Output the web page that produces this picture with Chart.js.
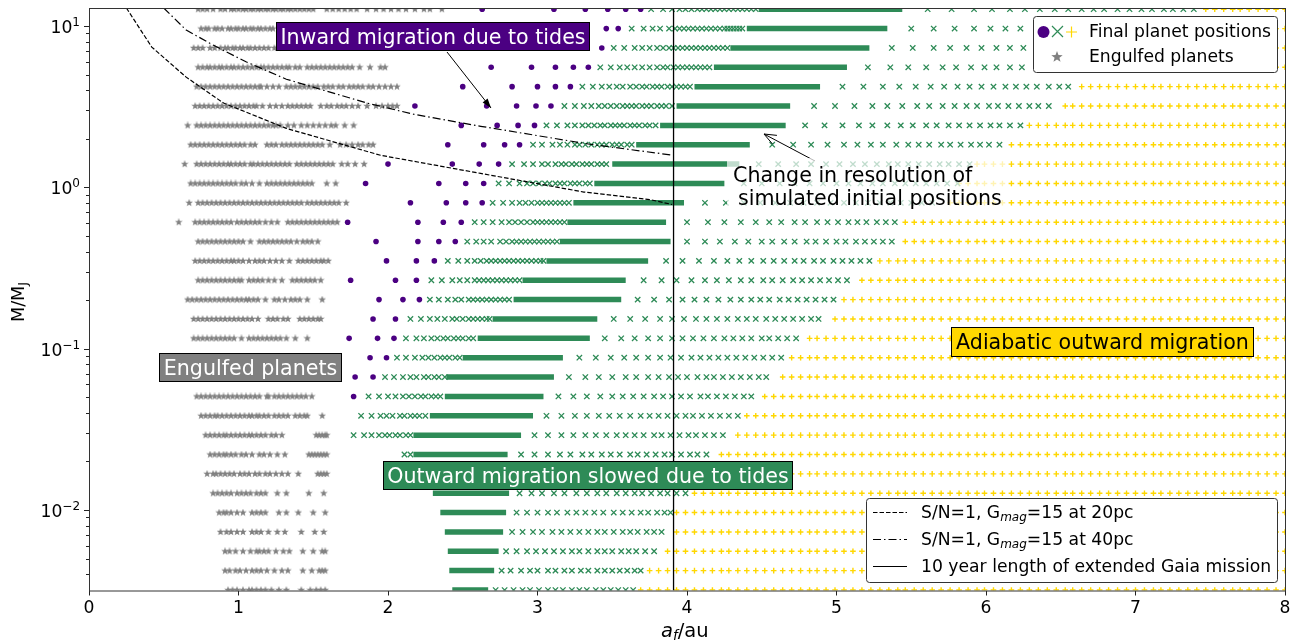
<!DOCTYPE html>
<html>
<head>
<meta charset="utf-8">
<script src="https://cdn.jsdelivr.net/npm/chart.js@4"></script>
<style>
  body { margin: 0; background: white; }
  canvas { display: block; }
</style>
</head>
<body>
<canvas id="chart" width="1301" height="642"></canvas>
<script>
// planet masses of the rows, top row first
const masses = [12.71, 9.638, 7.311, 5.546, 4.207, 3.192, 2.421, 1.837, 1.393, 1.057, 0.8017, 0.6081, 0.4613, 0.35, 0.2655, 0.2014, 0.1528, 0.1159, 0.0879, 0.06668, 0.05058, 0.03837, 0.0291, 0.02208, 0.01675, 0.0127, 0.00964, 0.00731, 0.00555, 0.00421, 0.00319];

const starX = [
  [.73,.76,.79,.83,.88,.91,.95,.97,1,1.03,1.05,1.08,1.1,1.13,1.15,1.18,1.2,1.23,1.25,1.28,1.3,1.33,1.35,1.38,1.41,1.44,1.47,1.5,1.59,1.63,1.67,1.71,1.75,1.79,1.86,1.92,1.97,2.02,2.07,2.12,2.18,2.24,2.28,2.36],
  [.75,.78,.8,.84,.86,.89,.93,.95,.98,1,1.03,1.05,1.08,1.1,1.13,1.15,1.18,1.21,1.23],
  [.7,.73,.76,.81,.84,.88,.91,.93,.96,.98,1.01,1.03,1.06,1.08,1.11,1.14,1.17,1.2,1.24,1.26],
  [.73,.76,.79,.81,.84,.87,.89,.92,.95,.97,1,1.03,1.06,1.09,1.12,1.15,1.17,1.2,1.23,1.26,1.29,1.32,1.34,1.38,1.41,1.46,1.49,1.52,1.55,1.58,1.61,1.64,1.67,1.7,1.73,1.76,1.81,1.88,1.95,1.98],
  [.72,.75,.78,.81,.84,.87,.9,.93,.96,.99,1.02,1.05,1.08,1.11,1.14,1.15,1.19,1.23,1.27,1.32,1.35,1.38,1.41,1.44,1.47,1.5,1.53,1.57,1.6,1.63,1.67,1.7,1.74,1.77,1.8,1.83,1.87,1.9,1.94,1.98,2.02,2.06],
  [.71,.74,.77,.8,.83,.86,.89,.92,.95,.98,1.01,1.04,1.07,1.1,1.12,1.16,1.21,1.25,1.29,1.33,1.36,1.39,1.42,1.45,1.48,1.55,1.59,1.62,1.66,1.69,1.72,1.76,1.8,1.86,1.92,1.96,2,2.03,2.06],
  [.66,.72,.75,.78,.81,.84,.87,.9,.93,.96,.99,1.02,1.05,1.08,1.11,1.14,1.17,1.2,1.23,1.25,1.28,1.33,1.37,1.42,1.46,1.5,1.54,1.58,1.62,1.65,1.71,1.77],
  [.68,.71,.74,.77,.8,.83,.86,.89,.92,.95,.98,1.01,1.04,1.08,1.11,1.19,1.22,1.25,1.29,1.32,1.35,1.38,1.41,1.44,1.47,1.5,1.53,1.56,1.61,1.68,1.72,1.76,1.8,1.83,1.87,1.9],
  [.64,.72,.75,.78,.81,.84,.87,.9,.93,.95,.98,1.01,1.04,1.08,1.1,1.13,1.16,1.19,1.22,1.25,1.28,1.31,1.34,1.39,1.42,1.45,1.48,1.51,1.54,1.57,1.6,1.63,1.69,1.73,1.78,1.84],
  [.68,.71,.74,.77,.8,.83,.86,.89,.92,.95,.98,1.02,1.05,1.09,1.14,1.19,1.22,1.25,1.28,1.31,1.34,1.37,1.4,1.43,1.46,1.49,1.59,1.65],
  [.67,.73,.76,.79,.82,.85,.88,.91,.94,.97,1,1.03,1.06,1.09,1.12,1.15,1.18,1.21,1.24,1.27,1.3,1.33,1.36,1.39,1.42,1.46,1.49,1.52,1.55,1.58,1.61,1.64,1.67,1.72],
  [.6,.71,.74,.77,.8,.83,.86,.89,.92,.95,.99,1.02,1.05,1.08,1.11,1.14,1.18,1.22,1.26,1.33,1.36,1.39,1.42,1.45,1.48,1.51,1.54,1.57,1.6,1.63,1.66],
  [.73,.76,.79,.82,.85,.88,.91,.94,.97,1,1.03,1.08,1.14,1.17,1.2,1.23,1.26,1.29,1.32,1.35,1.39,1.43,1.46,1.49,1.53],
  [.71,.74,.77,.8,.83,.86,.89,.92,.95,.97,1,1.03,1.07,1.11,1.14,1.17,1.21,1.25,1.29,1.34,1.4,1.43,1.46,1.49,1.52,1.55,1.57,1.6],
  [.73,.76,.79,.82,.85,.88,.91,.94,.97,1,1.02,1.07,1.1,1.13,1.16,1.2,1.24,1.29,1.36,1.39,1.42,1.45,1.48,1.51,1.55],
  [.66,.69,.72,.75,.78,.81,.84,.87,.9,.93,.96,.99,1.02,1.05,1.07,1.1,1.13,1.18,1.24,1.27,1.31,1.35,1.38,1.41,1.46,1.56],
  [.7,.73,.76,.79,.82,.85,.88,.91,.94,.97,1,1.03,1.06,1.09,1.13,1.2,1.23,1.26,1.3,1.33,1.41,1.44,1.47,1.5,1.53,1.55],
  [.7,.73,.76,.79,.82,.85,.88,.91,.94,.97,1.02,1.07,1.1,1.13,1.16,1.19,1.22,1.25,1.28,1.32,1.38,1.46],
  [.72,.76,.8,.84,.88,.92,.96,1,1.04,1.08,1.12,1.16,1.22,1.27,1.32,1.38,1.44],
  [.74,.78,.82,.86,.9,.94,.98,1.02,1.07,1.11,1.15,1.19,1.25,1.29,1.33,1.4,1.45,1.5],
  [.72,.75,.78,.81,.84,.87,.9,.93,.96,.99,1.02,1.05,1.08,1.11,1.14,1.19,1.2,1.24,1.27,1.3,1.33,1.36,1.39,1.42,1.45,1.49],
  [.75,.78,.81,.84,.86,.89,.92,.95,.98,1.01,1.04,1.07,1.09,1.12,1.14,1.17,1.2,1.24,1.27,1.3,1.33,1.38,1.41,1.44,1.46,1.56],
  [.78,.81,.84,.87,.9,.92,.95,.98,1.01,1.04,1.07,1.09,1.12,1.15,1.18,1.22,1.25,1.29,1.52,1.54,1.56,1.58,1.59],
  [.81,.84,.87,.9,.92,.95,.98,1.02,1.05,1.09,1.14,1.17,1.21,1.26,1.31,1.47,1.49,1.51,1.53,1.55,1.57,1.59],
  [.79,.83,.85,.88,.91,.94,.97,1.01,1.04,1.07,1.11,1.14,1.18,1.21,1.25,1.29,1.33,1.4,1.53,1.55,1.57,1.59],
  [.83,.86,.89,.92,.95,.99,1.02,1.05,1.08,1.12,1.15,1.18,1.26,1.32,1.47,1.57],
  [.87,.9,.92,.95,.99,1.03,1.09,1.12,1.15,1.18,1.27,1.32,1.4,1.5,1.58],
  [.88,.92,.95,.99,1.03,1.09,1.12,1.15,1.2,1.26,1.31,1.42,1.51,1.57],
  [.91,.94,.98,1.03,1.08,1.12,1.14,1.17,1.2,1.25,1.3,1.34,1.43,1.5,1.56,1.58],
  [.91,.94,.98,1.01,1.05,1.09,1.12,1.15,1.19,1.24,1.29,1.33,1.43,1.49,1.54,1.56,1.58],
  [.93,.96,.99,1.03,1.07,1.09,1.12,1.15,1.18,1.22,1.27,1.32,1.42,1.48,1.52,1.55,1.58]
];

const circleX = [
  [2.63,3.11,3.32,3.47,3.59,3.69],
  [3.46,3.54],
  [3.43],
  [2.69,2.96,3.12,3.24,3.34],
  [2.5,2.83,3,3.12,3.22],
  [2.18,2.66,2.86,2.99,3.09],
  [2.49,2.73,2.87,2.98],
  [2.4,2.64,2.78,2.88],
  [2,2.43,2.61,2.74],
  [1.85,2.34,2.52,2.64],
  [2.15,2.39,2.52,2.63],
  [1.73,2.2,2.37,2.49],
  [1.92,2.2,2.34,2.45],
  [1.99,2.19,2.31],
  [1.75,2.05,2.19],
  [1.94,2.1,2.21],
  [1.9,2.05],
  [1.74,1.93,2.04],
  [1.88,1.99],
  [1.78,1.9],
  [1.77],
  [],[],[],[],[],[],[],[],[],[]
];

const crossX = [
  [3.76,3.84,3.9,3.95,3.99,4.03,4.07,4.1,4.13,4.16,4.19,4.22,4.25,4.28,4.31,4.34,4.37,4.4,4.43,4.46,5.61,5.77,5.92,6.04,6.16,6.26,6.36,6.46,6.55,6.64,6.72,6.79,6.88,6.96,7.04,7.11,7.19,7.25,7.32,7.39],
  [3.63,3.71,3.77,3.82,3.88,3.92,3.95,3.98,4.01,4.04,4.07,4.1,4.13,4.16,4.19,4.22,4.25,4.27,4.29,4.31,4.33,4.35,4.37,5.5,5.65,5.79,5.92,6.03,6.13,6.23],
  [3.51,3.58,3.65,3.7,3.75,3.8,3.84,3.88,3.91,3.94,3.97,4,4.03,4.06,4.09,4.12,4.15,4.18,4.21,4.24,4.27,5.37,5.51,5.65,5.76,5.87,5.97,6.07,6.16,6.25],
  [3.42,3.49,3.55,3.6,3.65,3.7,3.75,3.8,3.84,3.87,3.91,3.94,3.97,4,4.03,4.06,4.09,4.12,4.15,5.21,5.36,5.48,5.6,5.71,5.8,5.9,5.99,6.07,6.16,6.24],
  [3.3,3.37,3.43,3.48,3.53,3.57,3.62,3.66,3.7,3.73,3.77,3.8,3.83,3.87,3.9,3.93,3.96,3.99,4.02,5.04,5.18,5.31,5.42,5.53,5.63,5.72,5.81,5.89,5.97,6.05,6.13,6.2,6.27,6.34,6.42,6.49,6.55],
  [3.18,3.25,3.31,3.36,3.41,3.45,3.49,3.53,3.57,3.6,3.63,3.66,3.7,3.73,3.76,3.8,3.83,3.86,3.9,4.85,4.99,5.12,5.24,5.34,5.44,5.54,5.62,5.71,5.79,5.87,5.94,6.02,6.08,6.15,6.22,6.29,6.35,6.42],
  [3.06,3.13,3.2,3.25,3.3,3.34,3.38,3.42,3.45,3.49,3.52,3.55,3.58,3.62,3.65,3.68,3.72,3.75,3.79,4.79,4.92,5.04,5.15,5.24,5.34,5.43,5.51,5.6,5.67,5.75,5.82,5.89,5.96,6.03,6.09,6.16,6.23],
  [2.97,3.03,3.1,3.15,3.2,3.25,3.28,3.32,3.36,3.4,3.43,3.46,3.5,3.53,3.56,3.6,3.63,4.57,4.71,4.83,4.94,5.05,5.14,5.23,5.31,5.4,5.48,5.55,5.62,5.7,5.76,5.83,5.9,5.96,6.02,6.09],
  [2.83,2.91,2.97,3.03,3.07,3.12,3.16,3.19,3.23,3.26,3.3,3.33,3.36,3.4,3.43,3.46,4.48,4.61,4.73,4.83,4.93,5.02,5.11,5.19,5.27,5.35,5.41,5.48,5.55,5.62,5.69,5.75,5.82,5.89],
  [2.74,2.81,2.88,2.93,2.97,3.01,3.05,3.08,3.12,3.15,3.18,3.22,3.25,3.28,3.32,3.35,4.38,4.5,4.62,4.72,4.82,4.91,5,5.08,5.16,5.24,5.31,5.39,5.46,5.53,5.6,5.67,5.74,5.81],
  [2.7,2.77,2.83,2.88,2.92,2.96,3,3.03,3.06,3.09,3.12,3.15,3.18,3.21,4.12,4.26,4.38,4.49,4.59,4.69,4.78,4.87,4.96,5.05,5.13,5.21,5.29,5.36,5.43,5.5,5.57,5.64],
  [2.58,2.64,2.7,2.76,2.81,2.85,2.89,2.93,2.97,3,3.03,3.06,3.09,3.12,3.15,3.18,4,4.14,4.25,4.36,4.46,4.55,4.63,4.72,4.79,4.87,4.94,5.01,5.08,5.14,5.2,5.27,5.33,5.39],
  [2.53,2.59,2.64,2.69,2.75,2.79,2.83,2.86,2.89,2.92,2.95,2.98,3.01,3.04,3.07,3.1,3.13,4,4.12,4.22,4.32,4.41,4.5,4.57,4.65,4.72,4.8,4.86,4.93,5,5.06,5.13,5.19,5.25,5.31,5.37],
  [2.4,2.47,2.53,2.58,2.62,2.66,2.69,2.72,2.75,2.78,2.81,2.84,2.87,2.9,2.93,2.96,2.99,3.02,3.04,3.86,3.97,4.08,4.18,4.27,4.35,4.43,4.51,4.58,4.65,4.72,4.78,4.85,4.91,4.98,5.04,5.1,5.16,5.22],
  [2.29,2.36,2.43,2.48,2.53,2.58,2.61,2.64,2.67,2.7,2.73,2.76,2.79,2.82,2.85,2.88,3.71,3.83,3.93,4.03,4.12,4.2,4.28,4.36,4.43,4.51,4.57,4.64,4.71,4.77,4.83,4.89,4.95,5.01,5.07],
  [2.28,2.34,2.4,2.45,2.49,2.54,2.57,2.6,2.63,2.66,2.69,2.72,2.75,2.78,2.81,3.67,3.78,3.88,3.97,4.05,4.13,4.21,4.29,4.36,4.43,4.49,4.55,4.62,4.68,4.74,4.8,4.86,4.92,4.98],
  [2.15,2.22,2.28,2.33,2.38,2.43,2.46,2.5,2.54,2.57,2.6,2.63,2.66,2.68,3.51,3.62,3.72,3.82,3.9,3.98,4.06,4.13,4.2,4.27,4.34,4.4,4.46,4.53,4.59,4.65,4.71,4.77,4.83,4.88],
  [2.12,2.19,2.24,2.29,2.33,2.37,2.4,2.44,2.47,2.5,2.54,2.57,3.45,3.56,3.65,3.74,3.82,3.9,3.97,4.04,4.11,4.18,4.25,4.31,4.37,4.43,4.5,4.55,4.61,4.67,4.73],
  [2.06,2.12,2.18,2.23,2.27,2.31,2.35,2.38,2.41,2.45,2.48,3.28,3.39,3.49,3.58,3.66,3.74,3.82,3.89,3.96,4.03,4.09,4.15,4.21,4.27,4.33,4.39,4.45,4.51,4.57,4.63],
  [1.98,2.04,2.1,2.15,2.19,2.24,2.27,2.31,2.34,2.38,3.21,3.32,3.41,3.5,3.59,3.66,3.74,3.81,3.88,3.94,4,4.07,4.13,4.18,4.24,4.3,4.36,4.42,4.48,4.53],
  [1.87,1.94,2,2.05,2.1,2.14,2.18,2.22,2.25,2.29,2.32,2.35,3.14,3.24,3.33,3.42,3.5,3.57,3.64,3.71,3.78,3.84,3.9,3.96,4.02,4.09,4.14,4.2,4.26,4.32,4.38,4.43],
  [1.82,1.89,1.95,1.99,2.03,2.08,2.11,2.15,2.18,2.21,2.25,3.06,3.16,3.25,3.33,3.41,3.48,3.55,3.62,3.69,3.75,3.81,3.87,3.93,3.99,4.04,4.1,4.16,4.22,4.28,4.34],
  [1.77,1.84,1.89,1.94,1.98,2.01,2.05,2.08,2.12,2.15,2.98,3.07,3.16,3.24,3.32,3.39,3.46,3.53,3.59,3.65,3.71,3.78,3.83,3.89,3.95,4.01,4.06,4.12,4.18,4.24],
  [2.11,2.15,2.89,2.98,3.07,3.15,3.22,3.3,3.36,3.43,3.49,3.55,3.62,3.67,3.73,3.79,3.85,3.9,3.96,4.02,4.07,4.13],
  [2.9,3,3.08,3.16,3.24,3.32,3.39,3.46,3.53,3.59,3.66,3.72,3.78,3.84,3.9,3.96,4.02],
  [2.88,2.96,3.03,3.11,3.18,3.26,3.33,3.4,3.46,3.53,3.59,3.65,3.7,3.76,3.82,3.87,3.93,3.99],
  [2.86,2.93,3,3.07,3.13,3.2,3.26,3.32,3.38,3.44,3.51,3.57,3.63,3.69,3.74,3.8,3.85,3.89],
  [2.83,2.9,2.97,3.03,3.1,3.16,3.22,3.28,3.34,3.4,3.45,3.51,3.57,3.62,3.67,3.73,3.78,3.83],
  [2.79,2.86,2.93,2.99,3.05,3.11,3.17,3.23,3.28,3.34,3.4,3.45,3.5,3.56,3.61,3.66,3.72,3.78],
  [2.76,2.82,2.89,2.95,3,3.07,3.12,3.18,3.23,3.29,3.34,3.4,3.45,3.5,3.55,3.6,3.65,3.69],
  [2.72,2.78,2.84,2.9,2.95,3.01,3.07,3.12,3.17,3.23,3.28,3.33,3.39,3.44,3.49,3.54,3.59,3.64]
];

// solid stretch of each row where the crosses merge together
const bandStart = [4.48, 4.4, 4.29, 4.18, 4.05, 3.93, 3.82, 3.66, 3.5, 3.38, 3.24, 3.2, 3.15, 3.06, 2.9, 2.84, 2.7, 2.6, 2.5, 2.39, 2.38, 2.28, 2.17, 2.17, 2.22, 2.3, 2.35, 2.38, 2.4, 2.41, 2.43];
const bandEnd = [5.44, 5.34, 5.22, 5.07, 4.89, 4.69, 4.66, 4.42, 4.35, 4.25, 3.98, 3.86, 3.89, 3.74, 3.59, 3.56, 3.4, 3.35, 3.17, 3.11, 3.04, 2.97, 2.89, 2.8, 2.8, 2.81, 2.79, 2.77, 2.74, 2.71, 2.67];

// plus markers sit on one grid, each row starts somewhere on it
const plusGrid = [3.69,3.75,3.81,3.87,3.93,3.99,4.05,4.11,4.17,4.23,4.28,4.34,4.40,4.46,4.52,4.58,4.64,4.70,4.76,4.82,4.87,4.93,4.99,5.05,5.11,5.17,5.23,5.29,5.35,5.41,5.46,5.52,5.58,5.64,5.70,5.76,5.82,5.88,5.94,5.99,6.05,6.11,6.17,6.23,6.29,6.35,6.41,6.47,6.53,6.58,6.64,6.70,6.76,6.82,6.88,6.94,7.00,7.06,7.12,7.17,7.23,7.29,7.35,7.41,7.47,7.53,7.59,7.65,7.70,7.76,7.82,7.88,7.94,8.00];
const plusStart = [7.45, 7.3, 7.3, 7.3, 6.61, 6.48, 6.28, 6.15, 5.94, 5.82, 5.72, 5.46, 5.45, 5.28, 5.13, 5.03, 4.94, 4.78, 4.69, 4.59, 4.49, 4.39, 4.29, 4.18, 4.08, 4.02, 3.93, 3.89, 3.83, 3.72, 3.68];

const curve20X = [0.25, 0.42, 0.65, 0.9, 1.32, 1.95, 2.62, 3.31, 3.75, 3.9];
const curve20Y = [12.93, 7.4, 4.82, 3.33, 2.32, 1.58, 1.22, 0.935, 0.84, 0.783];
const curve40X = [0.5, 0.65, 0.83, 1.05, 1.32, 1.5, 1.86, 2.17, 2.62, 3.35, 3.91];
const curve40Y = [12.93, 9.44, 7.62, 6.0, 4.68, 4.18, 3.33, 2.84, 2.39, 1.85, 1.58];
const gaiaX = [3.91, 3.91];
const gaiaY = [0.00317, 12.93];

const xTicks = [0, 1, 2, 3, 4, 5, 6, 7, 8];
const yMajor = [10, 1, 0.1, 0.01];
const yMajorExp = ["1", "0", "\u22121", "\u22122"];
const yMinor = [0.004, 0.005, 0.006, 0.007, 0.008, 0.009, 0.02, 0.03, 0.04, 0.05, 0.06, 0.07, 0.08, 0.09, 0.2, 0.3, 0.4, 0.5, 0.6, 0.7, 0.8, 0.9, 2, 3, 4, 5, 6, 7, 8, 9];

const green = "#2e8b57";
const purple = "#4b0082";
const gold = "#ffd700";
const gray = "#808080";
const fontName = '"DejaVu Sans"';

function makeStar(size, color) {
  const c = document.createElement("canvas");
  c.width = size;
  c.height = size;
  const g = c.getContext("2d");
  const r = size / 2;
  g.fillStyle = color;
  g.beginPath();
  for (let i = 0; i < 10; i++) {
    const rad = i % 2 === 0 ? r : r * 0.42;
    const a = -Math.PI / 2 + i * Math.PI / 5;
    g.lineTo(r + rad * Math.cos(a), r + rad * Math.sin(a));
  }
  g.closePath();
  g.fill();
  return c;
}

function rowPoints(lists) {
  return lists.flatMap((row, i) => row.map(x => ({ x: x, y: masses[i] })));
}

function linePoints(xs, ys) {
  return xs.map((x, i) => ({ x: x, y: ys[i] }));
}

const plusRows = plusStart.map(s => plusGrid.filter(x => x >= s));

const lineSets = [
  { data: linePoints(gaiaX, gaiaY), showLine: true, pointRadius: 0, borderColor: "black", borderWidth: 1.3, clip: 0 },
  { data: linePoints(curve40X, curve40Y), showLine: true, pointRadius: 0, borderColor: "black", borderWidth: 1.2, borderDash: [8, 3, 1.5, 3], clip: 0 },
  { data: linePoints(curve20X, curve20Y), showLine: true, pointRadius: 0, borderColor: "black", borderWidth: 1.2, borderDash: [4.5, 2], clip: 0 }
];

const bandSets = masses.map((m, i) => ({
  data: [{ x: bandStart[i], y: m }, { x: bandEnd[i], y: m }],
  showLine: true, pointRadius: 0, borderColor: green, borderWidth: 5.5, clip: 0
}));

const markSets = [
  { data: rowPoints(circleX), pointStyle: "circle", pointRadius: 2.8, backgroundColor: purple, borderColor: purple, borderWidth: 0, clip: 0 },
  { data: rowPoints(crossX), pointStyle: "crossRot", pointRadius: 3.8, borderColor: green, borderWidth: 1.3, clip: 0 },
  { data: rowPoints(plusRows), pointStyle: "cross", pointRadius: 2.8, borderColor: gold, borderWidth: 1.4, clip: 0 },
  { data: rowPoints(starX), pointStyle: makeStar(8, gray), pointRadius: 4, clip: 0 }
];

// text, for a run of normal, italic and small pieces
function writeParts(ctx, x, y, parts, size, color) {
  ctx.fillStyle = color || "black";
  ctx.textAlign = "left";
  ctx.textBaseline = "alphabetic";
  let pos = x;
  parts.forEach(p => {
    const s = p.small ? size * 0.7 : size;
    ctx.font = (p.italic ? "italic " : "") + s + "px " + fontName;
    ctx.fillText(p.t, pos, y + (p.dy || 0));
    pos += ctx.measureText(p.t).width;
  });
  return pos - x;
}

function labelBox(ctx, text, left, top, right, bottom, fill, textColor) {
  ctx.fillStyle = fill;
  ctx.fillRect(left, top, right - left, bottom - top);
  ctx.strokeStyle = "black";
  ctx.lineWidth = 1;
  ctx.strokeRect(left + 0.5, top + 0.5, right - left - 1, bottom - top - 1);
  ctx.fillStyle = textColor;
  ctx.font = "20.6px " + fontName;
  ctx.textAlign = "center";
  ctx.textBaseline = "alphabetic";
  ctx.fillText(text, (left + right) / 2, (top + bottom) / 2 + 7);
}

function arrow(ctx, x0, y0, x1, y1, filled) {
  const a = Math.atan2(y1 - y0, x1 - x0);
  const len = filled ? 10 : 13;
  const spread = filled ? 0.32 : 0.38;
  ctx.strokeStyle = "black";
  ctx.fillStyle = "black";
  ctx.lineWidth = 1;
  ctx.beginPath();
  ctx.moveTo(x0, y0);
  ctx.lineTo(x1, y1);
  ctx.stroke();
  ctx.beginPath();
  ctx.moveTo(x1 - len * Math.cos(a - spread), y1 - len * Math.sin(a - spread));
  ctx.lineTo(x1, y1);
  ctx.lineTo(x1 - len * Math.cos(a + spread), y1 - len * Math.sin(a + spread));
  if (filled) {
    ctx.closePath();
    ctx.fill();
  } else {
    ctx.stroke();
  }
}

function legendBox(ctx, x, y, w, h) {
  ctx.beginPath();
  ctx.roundRect(x + 0.5, y + 0.5, w, h, 3);
  ctx.fillStyle = "white";
  ctx.fill();
  ctx.strokeStyle = "#333";
  ctx.lineWidth = 1;
  ctx.stroke();
}

const extras = {
  id: "extras",
  afterDatasetsDraw(chart) {
    const ctx = chart.ctx;
    const area = chart.chartArea;
    const yScale = chart.scales.y;
    ctx.save();

    // y ticks are drawn by hand, chart.js can't do different tick lengths
    ctx.strokeStyle = "#222";
    ctx.lineWidth = 1;
    yMinor.forEach(v => {
      const py = Math.round(yScale.getPixelForValue(v)) + 0.5;
      ctx.beginPath();
      ctx.moveTo(area.left - 3, py);
      ctx.lineTo(area.left, py);
      ctx.stroke();
    });
    yMajor.forEach((v, i) => {
      const py = Math.round(yScale.getPixelForValue(v)) + 0.5;
      ctx.beginPath();
      ctx.moveTo(area.left - 5, py);
      ctx.lineTo(area.left, py);
      ctx.stroke();
      ctx.font = "17.2px " + fontName;
      const w1 = ctx.measureText("10").width;
      ctx.font = "12px " + fontName;
      const w2 = ctx.measureText(yMajorExp[i]).width;
      writeParts(ctx, area.left - 9 - w1 - w2, py + 6, [
        { t: "10" },
        { t: yMajorExp[i], small: true, dy: -6.5 }
      ], 17.2);
    });

    // frame
    ctx.strokeStyle = "#333";
    ctx.strokeRect(area.left + 0.5, area.top + 0.5, area.right - area.left, area.bottom - area.top);

    // axis titles
    writeParts(ctx, 661, 637, [
      { t: "a", italic: true },
      { t: "f", italic: true, small: true, dy: 3 },
      { t: "/au" }
    ], 19.5);
    ctx.save();
    ctx.translate(24, 322);
    ctx.rotate(-Math.PI / 2);
    writeParts(ctx, 0, 0, [{ t: "M/M" }, { t: "J", small: true, dy: 3 }], 17.6);
    ctx.restore();

    // annotations
    arrow(ctx, 447, 52, 491, 108, true);
    arrow(ctx, 815, 161, 764, 134, false);
    labelBox(ctx, "Inward migration due to tides", 276, 22, 590, 51, purple, "white");
    labelBox(ctx, "Engulfed planets", 159, 353, 342, 382, gray, "white");
    labelBox(ctx, "Outward migration slowed due to tides", 383, 461, 793, 490, green, "white");
    labelBox(ctx, "Adiabatic outward migration", 951, 327, 1254, 357, gold, "black");

    ctx.fillStyle = "rgba(255,255,255,0.7)";
    ctx.fillRect(727, 158, 281, 55);
    ctx.fillStyle = "black";
    ctx.font = "20.6px " + fontName;
    ctx.textAlign = "left";
    ctx.textBaseline = "alphabetic";
    ctx.fillText("Change in resolution of", 733, 182);
    ctx.fillText("simulated initial positions", 738, 205);

    // upper legend
    legendBox(ctx, 1033, 16, 244, 56);
    ctx.fillStyle = purple;
    ctx.beginPath();
    ctx.arc(1043.5, 32, 6, 0, Math.PI * 2);
    ctx.fill();
    ctx.strokeStyle = green;
    ctx.lineWidth = 1.2;
    ctx.beginPath();
    ctx.moveTo(1052, 26); ctx.lineTo(1063, 37);
    ctx.moveTo(1063, 26); ctx.lineTo(1052, 37);
    ctx.stroke();
    ctx.strokeStyle = gold;
    ctx.beginPath();
    ctx.moveTo(1066, 32); ctx.lineTo(1077, 32);
    ctx.moveTo(1071.5, 26.5); ctx.lineTo(1071.5, 37.5);
    ctx.stroke();
    ctx.drawImage(makeStar(12, gray), 1051, 51);
    writeParts(ctx, 1089, 37, [{ t: "Final planet positions" }], 17.2);
    writeParts(ctx, 1089, 62, [{ t: "Engulfed planets" }], 17.2);

    // lower legend
    legendBox(ctx, 866, 498, 411, 84);
    ctx.strokeStyle = "black";
    ctx.lineWidth = 1.1;
    const legendRows = [[512, [4.5, 2], "20pc"], [539, [8, 3, 1.5, 3], "40pc"]];
    legendRows.forEach(r => {
      ctx.setLineDash(r[1]);
      ctx.beginPath();
      ctx.moveTo(873, r[0] + 0.5);
      ctx.lineTo(907, r[0] + 0.5);
      ctx.stroke();
      ctx.setLineDash([]);
      writeParts(ctx, 921, r[0] + 6, [
        { t: "S/N=1, G" },
        { t: "mag", italic: true, small: true, dy: 3 },
        { t: "=15 at " + r[2] }
      ], 17.2);
    });
    ctx.beginPath();
    ctx.moveTo(873, 566.5);
    ctx.lineTo(907, 566.5);
    ctx.stroke();
    writeParts(ctx, 921, 572, [{ t: "10 year length of extended Gaia mission" }], 17.2);

    ctx.restore();
  }
};

new Chart(document.getElementById("chart").getContext("2d"), {
  type: "scatter",
  data: { datasets: [...lineSets, ...markSets, ...bandSets] },
  plugins: [extras],
  options: {
    responsive: false,
    animation: false,
    layout: { padding: { top: 8, right: 16, left: 0, bottom: 0 } },
    plugins: { legend: { display: false }, tooltip: { enabled: false } },
    scales: {
      x: {
        type: "linear",
        min: 0,
        max: 8,
        afterBuildTicks: s => { s.ticks = xTicks.map(v => ({ value: v })); },
        afterFit: s => { s.height = 51.5; },
        grid: { drawOnChartArea: false, drawTicks: true, tickLength: 5, color: "#222" },
        border: { display: false },
        ticks: { color: "black", font: { family: "DejaVu Sans", size: 17.2 }, maxRotation: 0, padding: 3 }
      },
      y: {
        type: "logarithmic",
        min: 0.00317,
        max: 12.93,
        afterFit: s => { s.width = 89; },
        grid: { display: false },
        border: { display: false },
        ticks: { display: false }
      }
    }
  }
});
</script>
</body>
</html>
